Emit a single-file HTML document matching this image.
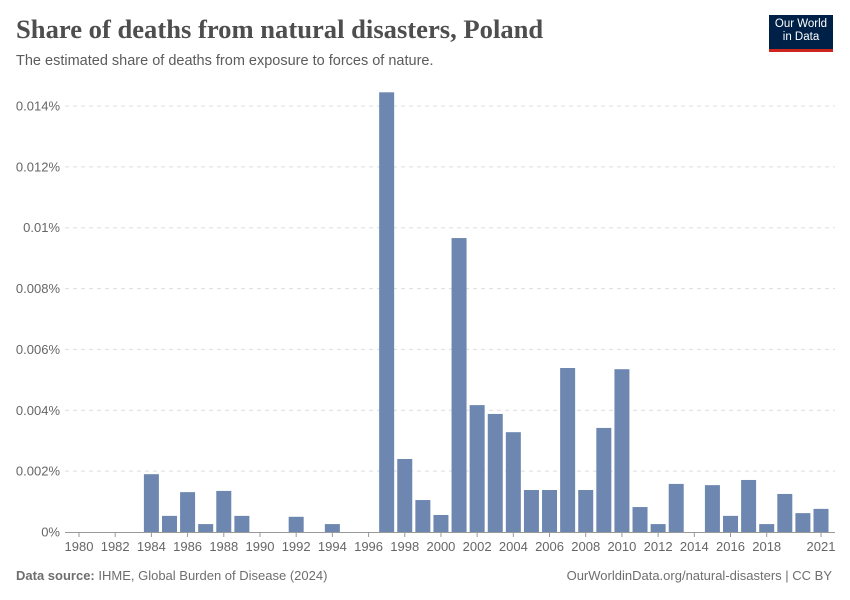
<!DOCTYPE html>
<html><head><meta charset="utf-8"><style>
body{margin:0;background:#fff;font-family:"Liberation Sans",sans-serif;}
#wrap{position:relative;width:850px;height:600px;overflow:hidden;}
.title{position:absolute;left:16px;top:14px;font-family:"Liberation Serif",serif;font-size:26.6px;font-weight:bold;color:#4e4e4e;}
.sub{position:absolute;left:16px;top:53px;font-size:14.5px;color:#5b5b5b;}
.logo{position:absolute;left:769px;top:15px;width:64px;height:37px;background:#002147;color:#fff;font-size:11.5px;line-height:13px;text-align:center;padding-top:3px;box-sizing:border-box;border-bottom:3px solid #ce261e;}
.foot{position:absolute;top:568px;font-size:13px;color:#6e6e6e;}
</style></head><body><div id="wrap">
<div class="title">Share of deaths from natural disasters, Poland</div>
<div class="sub">The estimated share of deaths from exposure to forces of nature.</div>
<div class="logo">Our World<br>in Data</div>
<svg id="svg" width="850" height="600" style="position:absolute;left:0;top:0"></svg>
<div class="foot" style="left:16px"><b>Data source:</b> IHME, Global Burden of Disease (2024)</div>
<div class="foot" style="right:18px">OurWorldinData.org/natural-disasters | CC BY</div>
</div>
<script>
const years=[];for(let y=1980;y<=2021;y++)years.push(y);
const values=[0,0,0,0,0.0019,0.00053,0.00131,0.00026,0.00135,0.00053,0,0,0.0005,0,0.00026,0,0,0.01445,0.0024,0.00105,0.00056,0.00966,0.00417,0.00388,0.00328,0.00138,0.00138,0.00539,0.00138,0.00342,0.00535,0.00082,0.00026,0.00158,0,0.00154,0.00053,0.00171,0.00026,0.00125,0.00062,0.00076];
const yTicks=[0,0.002,0.004,0.006,0.008,0.01,0.012,0.014];
const yTickLabels=["0%","0.002%","0.004%","0.006%","0.008%","0.01%","0.012%","0.014%"];
const xTickYears=[1980,1982,1984,1986,1988,1990,1992,1994,1996,1998,2000,2002,2004,2006,2008,2010,2012,2014,2016,2018,2021];
const svg=document.getElementById('svg');const NS='http://www.w3.org/2000/svg';
const y0=532,pxPer=(532-106)/0.014;
const yS=v=>y0-v*pxPer;
const xS=yr=>79+(yr-1980)*(821-79)/41;
function mk(t,a){const e=document.createElementNS(NS,t);for(const k in a)e.setAttribute(k,a[k]);svg.appendChild(e);return e;}
yTicks.forEach((t,i)=>{
 if(t>0){const g=mk('line',{x1:65,x2:835,y1:yS(t),y2:yS(t),stroke:'#ddd','stroke-dasharray':'4,4'});
 
 }
 const l=mk('text',{x:60,y:yS(t)+4.5,'text-anchor':'end','font-size':13,fill:'#666','font-family':'Liberation Sans'});
 l.textContent=yTickLabels[i];
 
 
});
years.forEach((yr,i)=>{
 if(values[i]<=0)return;
 const r=mk('rect',{x:xS(yr)-7.5,y:yS(values[i]),width:15,height:y0-yS(values[i]),fill:'#6d87b0'});
 
 
});
const ax=mk('line',{x1:65,x2:835,y1:y0+0.5,y2:y0+0.5,stroke:'#999'});


xTickYears.forEach(yr=>{
 const tk=mk('line',{x1:xS(yr),x2:xS(yr),y1:y0,y2:y0+5,stroke:'#999'});
 
 
 const l=mk('text',{x:xS(yr),y:y0+19,'text-anchor':'middle','font-size':13,fill:'#666','font-family':'Liberation Sans'});
 l.textContent=yr;
 
 
});
</script></body></html>
